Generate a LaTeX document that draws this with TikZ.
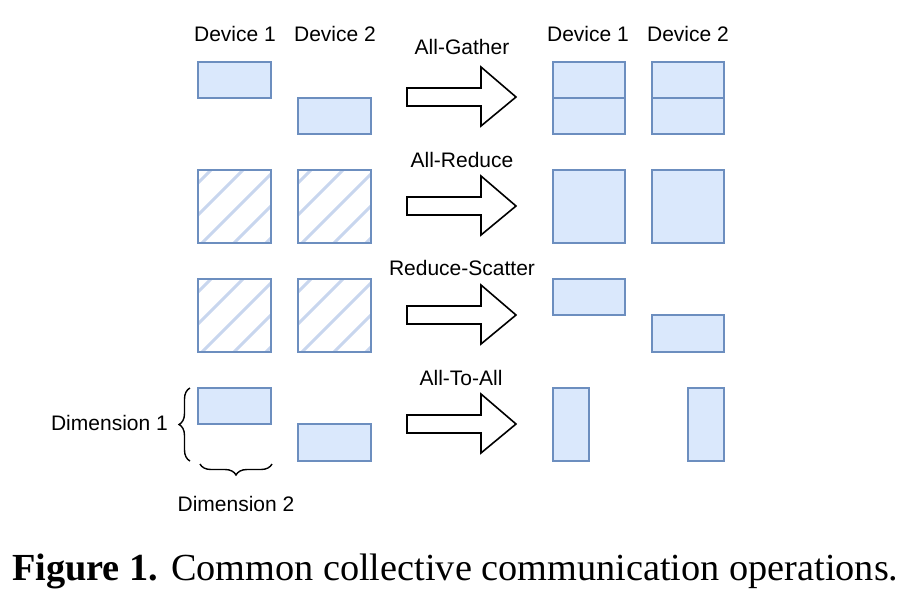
\documentclass[tikz,border=0pt]{standalone}
\usepackage{fontspec}
\setmainfont{Liberation Serif}
\newfontfamily\labfont{Liberation Sans}
\usetikzlibrary{decorations.pathreplacing}
\definecolor{boxfill}{HTML}{DAE8FC}
\definecolor{boxdraw}{HTML}{6C8EBF}
\definecolor{hatchc}{HTML}{C8D6EE}
\tikzset{
  blk/.style={draw=boxdraw,fill=boxfill,line width=2pt},
  hbox/.style={draw=boxdraw,line width=2pt},
  hatchline/.style={draw=hatchc,line width=3pt},
  bigarr/.style={draw=black,fill=white,line width=1.6pt,line join=miter},
  lab/.style={font=\labfont\fontsize{21}{25}\selectfont,inner sep=0pt},
  bracestyle/.style={draw=black,line width=1.4pt,decorate,decoration={brace,amplitude=11pt}},
}
\newcommand\hatchsq[4]{%
  \begin{scope}
    \clip (#1,#2) rectangle (#3,#4);
    \foreach \k in {-3,...,2}{\draw[hatchline] ({#1+4+32*\k},#4) -- ++(90,-90);}
  \end{scope}
  \draw[hbox] (#1,#2) rectangle (#3,#4);}
\newcommand\opArrow[1]{%
  \draw[bigarr] (407,#1-9) -- (481,#1-9) -- (481,#1-30) -- (516,#1) -- (481,#1+29) -- (481,#1+9) -- (407,#1+9) -- cycle;}
\begin{document}
\begin{tikzpicture}[x=1pt,y=-1pt]
\useasboundingbox (0,0) rectangle (912,595);
% headers
\node[lab] (d1l) at (235,34) {Device 1};
\node[lab] (d2l) at (335,34) {Device 2};
\node[lab] (d1r) at (588,34) {Device 1};
\node[lab] (d2r) at (688,34) {Device 2};
% operation labels
\node[lab] (op1) at (462,47) {All-Gather};
\node[lab] (op2) at (462,160) {All-Reduce};
\node[lab] (op3) at (462,268) {Reduce-Scatter};
\node[lab] (op4) at (461,378) {All-To-All};
% arrows
\opArrow{97}
\opArrow{206}
\opArrow{315}
\opArrow{424}
% row 1 All-Gather
\draw[blk] (198,62) rectangle (271,98);
\draw[blk] (298,98) rectangle (371,134);
\draw[blk] (553,62) rectangle (625,98);
\draw[blk] (553,98) rectangle (625,134);
\draw[blk] (652,62) rectangle (724,98);
\draw[blk] (652,98) rectangle (724,134);
% row 2 All-Reduce
\hatchsq{198}{170}{271}{243}
\hatchsq{298}{170}{371}{243}
\draw[blk] (553,170) rectangle (625,243);
\draw[blk] (652,170) rectangle (724,243);
% row 3 Reduce-Scatter
\hatchsq{198}{279}{271}{352}
\hatchsq{298}{279}{371}{352}
\draw[blk] (553,279) rectangle (625,315);
\draw[blk] (652,315) rectangle (724,352);
% row 4 All-To-All
\draw[blk] (198,388) rectangle (271,424);
\draw[blk] (298,424) rectangle (371,461);
\draw[blk] (553,388) rectangle (589,461);
\draw[blk] (688,388) rectangle (724,461);
% braces
\coordinate (b1a) at (190,461);
\coordinate (b1b) at (190,388);
\coordinate (b2a) at (272,464);
\coordinate (b2b) at (200,464);
\draw[bracestyle] (b1a) -- (b1b);
\draw[bracestyle] (b2a) -- (b2b);
\node[lab,anchor=east] (dim1) at (168,423) {Dimension 1};
\node[lab] (dim2) at (236,504) {Dimension 2};
% caption
\node[inner sep=0pt,anchor=base west] (cap) at (12,580) {\resizebox{886pt}{!}{\textbf{Figure 1.} Common collective communication operations.}};
\end{tikzpicture}
\end{document}
